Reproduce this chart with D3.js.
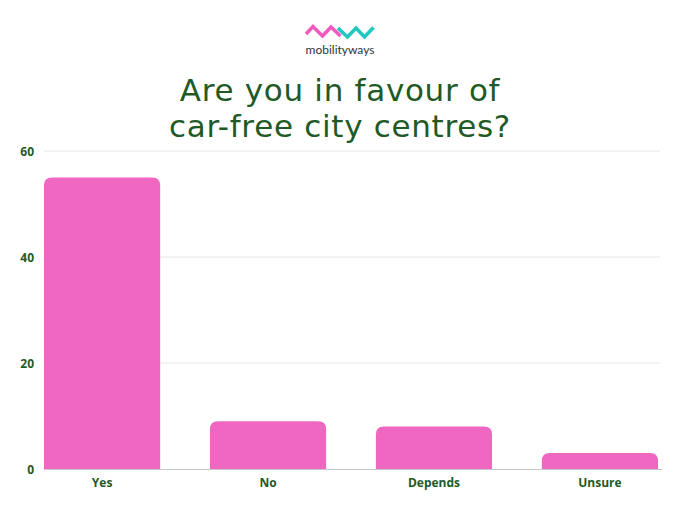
<!DOCTYPE html>
<html><head><meta charset="utf-8">
<script src="https://cdn.jsdelivr.net/npm/d3@7"></script>
<style>body{margin:0;background:#fff}svg{display:block}</style>
</head><body>
<svg id="c" width="680" height="510"></svg>
<script>
const categories = ["Yes", "No", "Depends", "Unsure"];
const values = [55, 9, 8, 3];
const yTicks = [0, 20, 40, 60];
const titleLines = ["Are you in favour of", "car-free city centres?"];

const svg = d3.select("#c");
const green = "#1f5a26";
const pink = "#f067c2";

// Logo
const pinkPts = [[306,34],[313,26.5],[322.5,36],[331,27],[340.5,36]];
const tealPts = [[338,28],[347.5,37],[356,28],[364.5,37],[373.5,27.5]];
const line = d3.line();
svg.append("path").attr("d", line(pinkPts)).attr("fill","none").attr("stroke","#f05bbd").attr("stroke-width",3.6).attr("stroke-linejoin","miter");
svg.append("path").attr("d", line(tealPts)).attr("fill","none").attr("stroke","#1fc9bf").attr("stroke-width",3.6).attr("stroke-linejoin","miter");
svg.append("text").attr("x",340).attr("y",54).attr("text-anchor","middle")
  .attr("font-family","Lato, 'Noto Sans', sans-serif").attr("font-size",12).attr("fill","#333")
  .text("mobilityways");

// Title
svg.append("g").selectAll("text").data(titleLines).join("text")
  .attr("x", 340).attr("y", (d,i) => 101 + i*36.3)
  .attr("text-anchor","middle")
  .attr("font-family","'DejaVu Sans', sans-serif")
  .attr("font-size", 31).attr("letter-spacing", 0.7).attr("fill", green)
  .text(d => d);

const x = d3.scaleBand().domain(categories).range([44, 658]).paddingInner(0.3).paddingOuter(0);
const y = d3.scaleLinear().domain([0, 60]).range([469, 151]);

// grid
svg.append("g").selectAll("line").data(yTicks.filter(t=>t>0)).join("line")
  .attr("x1", 44).attr("x2", 660).attr("y1", d=>y(d)).attr("y2", d=>y(d))
  .attr("stroke","#e6e6e6").attr("stroke-width",1);

// bars with rounded top
const r = 8;
svg.append("g").selectAll("path").data(categories).join("path")
  .attr("fill", pink)
  .attr("d", (c,i) => {
    const x0 = x(c), w = x.bandwidth(), y0 = y(values[i]), yb = y(0);
    const rr = Math.min(r, (yb - y0));
    return `M${x0},${yb} V${y0+rr} Q${x0},${y0} ${x0+rr},${y0} H${x0+w-rr} Q${x0+w},${y0} ${x0+w},${y0+rr} V${yb} Z`;
  });

// baseline
svg.append("line").attr("x1",44).attr("x2",662).attr("y1",y(0)+0.5).attr("y2",y(0)+0.5)
  .attr("stroke","#c8c8c8").attr("stroke-width",1);

// y axis
const yAxis = d3.axisLeft(y).tickValues(yTicks).tickSize(0).tickPadding(0);
const ga = svg.append("g").attr("transform","translate(34,1)").call(yAxis);
ga.select(".domain").remove();
ga.selectAll("text").attr("font-family","'Open Sans', 'Noto Sans', sans-serif").attr("font-weight","bold")
  .attr("font-size",12).attr("fill",green);

// x axis
const xAxis = d3.axisBottom(x).tickSize(0).tickPadding(0);
const gx = svg.append("g").attr("transform","translate(0,478)").call(xAxis);
gx.select(".domain").remove();
gx.selectAll("text").attr("font-family","'Open Sans', 'Noto Sans', sans-serif").attr("font-weight","bold")
  .attr("font-size",12).attr("fill",green);
</script>
</body></html>
